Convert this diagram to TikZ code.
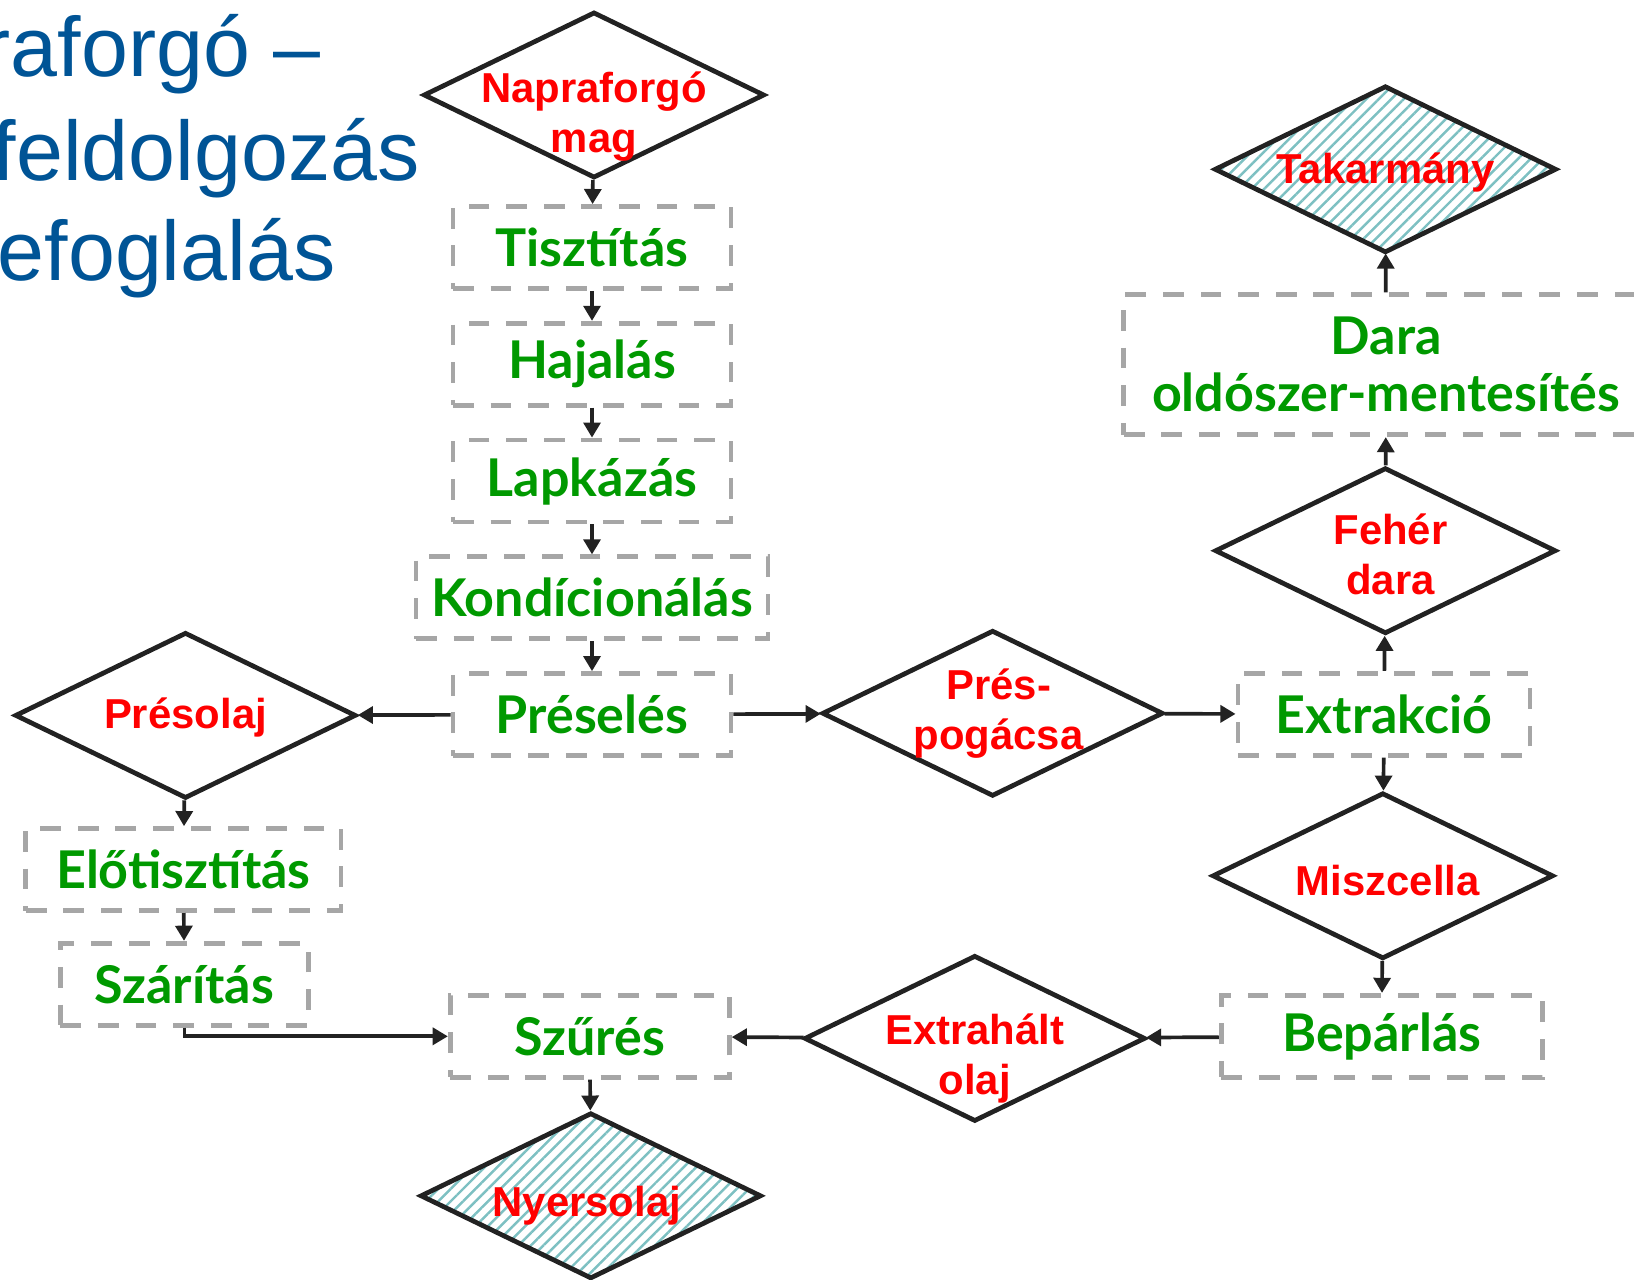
\documentclass[tikz,border=0pt]{standalone}
\usepackage{fontspec}
\setmainfont{Liberation Sans}
\newfontfamily\stepfam{Lato}
\usetikzlibrary{shapes.geometric, arrows.meta, patterns.meta}
\definecolor{titleblue}{RGB}{0,84,150}
\definecolor{stepgreen}{RGB}{0,153,0}
\definecolor{boxgray}{RGB}{166,166,166}
\definecolor{linedark}{RGB}{34,34,34}
\definecolor{hatch}{RGB}{125,192,194}

\begin{document}
\begin{tikzpicture}[x=0.01cm, y=-0.01cm, node distance=1.167cm,
    stepbox/.style={draw=boxgray, line width=1.35pt, dash pattern=on 5.9pt off 4.8pt,
        minimum width=2.78cm, minimum height=0.82cm, inner sep=0pt, align=center,
        text=stepgreen, font=\stepfam\bfseries\fontsize{14.8}{16.2}\selectfont},
    dia/.style={diamond, draw=linedark, line width=1.35pt, inner sep=0pt,
        minimum width=3.41cm, minimum height=1.66cm},
    product/.style={dia, pattern={Lines[angle=45, distance=2.5pt, line width=0.7pt]},
        pattern color=hatch},
    dtext/.style={text=red, align=center, font=\bfseries\fontsize{11.9}{14.2}\selectfont},
    title/.style={anchor=base west, inner sep=0pt, text=titleblue,
        font=\fontsize{24}{28.5}\selectfont},
    flow/.style={draw=linedark, line width=1.05pt, -{Triangle[width=4.8pt, length=4.3pt]}}]
    \useasboundingbox (0,0) rectangle (1634,1279);

    \node[title] (title1) at (-18,77) {raforgó –};
    \node[title] (title2) at (-8,180) {feldolgozás};
    \node[title] (title3) at (-3,280) {efoglalás};

    % pressing line
    \node[dia, label={[dtext, yshift=-0.22cm]center:Napraforgó\\mag}] (mag) at (594,95) {};
    \node[stepbox] (tiszt) at (592,247.5) {Tisztítás};
    \node[stepbox, below of=tiszt] (hajal) {Hajalás};
    \node[stepbox, below of=hajal] (lapk) {Lapkázás};
    \node[stepbox, minimum width=3.52cm, below of=lapk] (kond) {Kondícionálás};
    \node[stepbox, below of=kond] (presel) {Préselés};
    \node[dia, label={[dtext, yshift=-0.02cm]center:Présolaj}] (presolaj) at (185.5,715.4) {};
    \node[dia, label={[dtext, xshift=0.06cm]center:Prés-\\pogácsa}] (pogacsa) at (992.6,713.3) {};

    % extraction line
    \node[stepbox, minimum width=2.92cm] (extr) at (1384,714.3) {Extrakció};
    \node[dia, label={[dtext, xshift=0.05cm, yshift=-0.04cm]center:Fehér\\dara}] (feher) at (1385.4,550.7) {};
    \node[stepbox, minimum width=5.24cm, minimum height=1.4cm] (oldosz) at (1386,364.7) {Dara\\oldószer-mentesítés};
    \node[product, label={[dtext, yshift=-0.03cm]center:Takarmány}] (takarm) at (1385.4,169.3) {};
    \node[dia, label={[dtext, xshift=0.05cm, yshift=-0.05cm]center:Miszcella}] (miszc) at (1382.8,875.8) {};
    \node[stepbox, minimum width=3.21cm] (bepar) at (1381.7,1036.3) {Bepárlás};
    \node[dia, label={[dtext, yshift=-0.2cm]center:Extrahált\\olaj}] (extrolaj) at (974.8,1038.4) {};

    % oil cleaning
    \node[stepbox, minimum width=3.15cm] (elotiszt) at (183.4,869.6) {Előtisztítás};
    \node[stepbox, minimum width=2.48cm] (szarit) at (184.4,984.2) {Szárítás};
    \node[stepbox, minimum width=2.79cm] (szures) at (589.8,1036.3) {Szűrés};
    \node[product, label={[dtext, xshift=-0.04cm, yshift=-0.1cm]center:Nyersolaj}] (nyers) at (590.8,1195.8) {};

    % Edges
    \draw[flow] (mag) -- (tiszt);
    \draw[flow] (tiszt) -- (hajal);
    \draw[flow] (hajal) -- (lapk);
    \draw[flow] (lapk) -- (kond);
    \draw[flow] (kond) -- (presel);
    \draw[flow] (presel) -- (presolaj);
    \draw[flow] (presel) -- (pogacsa);
    \draw[flow] (pogacsa) -- (extr);
    \draw[flow] (extr) -- (feher);
    \draw[flow] (feher) -- (oldosz);
    \draw[flow] (oldosz) -- (takarm);
    \draw[flow] (extr) -- (miszc);
    \draw[flow] (miszc) -- (bepar);
    \draw[flow] (bepar) -- (extrolaj);
    \draw[flow] (extrolaj) -- (szures);
    \draw[flow] (presolaj) -- (elotiszt);
    \draw[flow] (elotiszt) -- (szarit);
    \draw[flow] (szarit) |- (szures);
    \draw[flow] (szures) -- (nyers);
\end{tikzpicture}
\end{document}
